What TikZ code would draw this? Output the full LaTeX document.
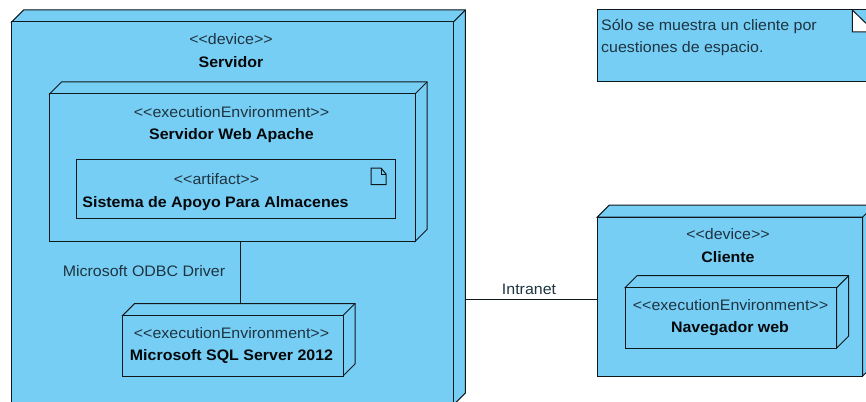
\documentclass[tikz,border=0pt]{standalone}
\usepackage{fontspec}
\setmainfont[FakeStretch=1.05]{Liberation Sans}
\definecolor{nodefill}{HTML}{77CEF5}
\definecolor{edge}{HTML}{10181C}
\definecolor{ink}{HTML}{1E3440}
\tikzset{
  x=1pt,y=-1pt,
  shapeline/.style={draw=edge,line width=1pt,line join=miter,fill=nodefill},
  cubeface/.style={shapeline,rectangle,inner sep=0pt,outer sep=0pt},
  ghost/.style={rectangle,inner sep=0pt,outer sep=0pt},
  link/.style={draw=edge,line width=1pt},
  stereo/.style={anchor=base,inner sep=0pt,yshift=-0.7pt,text=ink,font=\fontsize{15.2}{17}\selectfont},
  title/.style={anchor=base,inner sep=0pt,yshift=-0.7pt,text=black!85!ink,font=\fontsize{15.2}{17}\selectfont\bfseries},
  plain/.style={inner sep=0pt,yshift=-0.7pt,text=ink,font=\fontsize{15.2}{17}\selectfont},
}
% name, left, top, right, bottom of the front face; depth d
\newcommand{\cubenode}[6]{%
  \fill[nodefill] (#2,#3) -- (#2+#6,#3-#6) -- (#4+#6,#3-#6) -- (#4+#6,#5-#6) -- (#4,#5) -- (#2,#5) -- cycle;
  \draw[shapeline] (#2,#3) -- (#2+#6,#3-#6) -- (#4+#6,#3-#6) -- (#4+#6,#5-#6) -- (#4,#5) -- (#4,#3) -- cycle;
  \draw[shapeline] (#4,#3) -- (#4+#6,#3-#6);
  \node[cubeface,minimum width=#4-#2,minimum height=#5-#3,anchor=north west] (#1) at (#2,#3) {};
  \node[ghost,minimum width=#4-#2+#6,minimum height=#5-#3+#6,anchor=south west] (#1-outer) at (#2,#5) {};
}
\begin{document}
\begin{tikzpicture}
\useasboundingbox (0,0) rectangle (866,401);
\clip (0,0) rectangle (866,401);

% Servidor
\cubenode{servidor}{11.7}{22}{453.3}{405}{12}
\node[stereo] (servidorS) at (231,44) {<{}<device>{}>};
\node[title] (servidorT) at (231,67) {Servidor};

% Apache
\cubenode{apache}{49.5}{94}{415}{241.5}{12}
\node[stereo] (apacheS) at (231.5,116.5) {<{}<executionEnvironment>{}>};
\node[title] (apacheT) at (231.5,139) {Servidor Web Apache};

% Artifact
\node[cubeface,minimum width=319,minimum height=59,anchor=north west] (artifact) at (76,159) {};
\node[stereo] (artifactS) at (216.5,184) {<{}<artifact>{}>};
\node[title] (artifactT) at (215.5,207) {Sistema de Apoyo Para Almacenes};
\draw[draw=edge,line width=1pt,line join=miter,fill=nodefill] (371,168) -- (381,168) -- (386,174) -- (386,184.5) -- (371,184.5) -- cycle;
\draw[draw=edge,line width=1pt] (381,168) -- (381,174) -- (386,174);

% SQL Server
\cubenode{sql}{122.7}{315.5}{343}{376}{12}
\node[stereo] (sqlS) at (231.5,337.5) {<{}<executionEnvironment>{}>};
\node[title] (sqlT) at (231.5,360) {Microsoft SQL Server 2012};

% Note
\node[cubeface,minimum width=290,minimum height=71.5,anchor=north west] (nota) at (597.3,10) {};
\draw[draw=edge,line width=1pt,line join=miter,fill=white] (852.3,10) -- (852.3,32) -- (875,32) -- cycle;
\node[plain,anchor=base west] (notaA) at (601,30) {Sólo se muestra un cliente por};
\node[plain,anchor=base west] (notaB) at (601,52) {cuestiones de espacio.};

% Cliente
\cubenode{cliente}{597.3}{217}{862.7}{376}{12}
\node[stereo] (clienteS) at (728,239) {<{}<device>{}>};
\node[title] (clienteT) at (728,261.5) {Cliente};

% Navegador
\cubenode{navegador}{625}{287.7}{836.7}{348}{12}
\node[stereo] (navS) at (730.5,310) {<{}<executionEnvironment>{}>};
\node[title] (navT) at (730,332) {Navegador web};

% Connectors
\coordinate (odbcEnd) at (240,304);
\coordinate (intranetStart) at (465,299);
\draw[link] (apache.south -| odbcEnd) -- (odbcEnd);
\draw[link] (servidor-outer.east |- intranetStart) -- (cliente.west |- intranetStart);
\node[plain,anchor=base] (odbcL) at (144,276) {Microsoft ODBC Driver};
\node[plain,anchor=base] (intranetL) at (529,294) {Intranet};
\end{tikzpicture}
\end{document}
